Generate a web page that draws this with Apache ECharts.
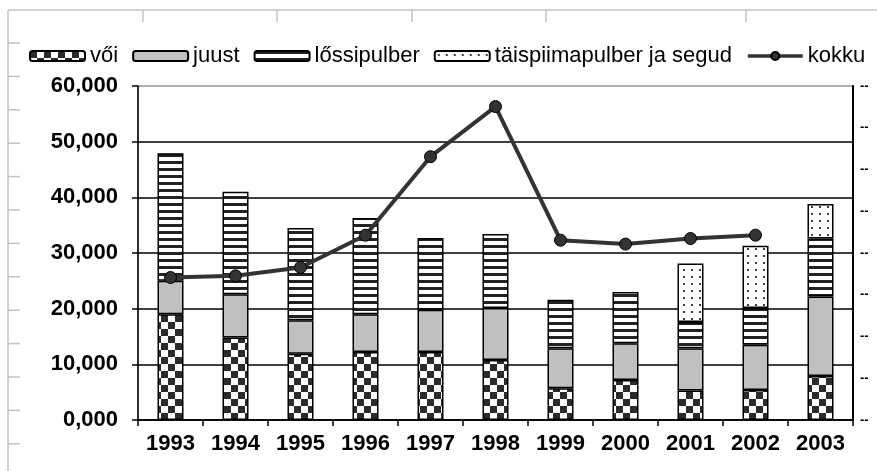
<!DOCTYPE html>
<html>
<head>
<meta charset="utf-8">
<script src="https://cdn.jsdelivr.net/npm/echarts@6/dist/echarts.min.js"></script>
<style>
  html, body { margin: 0; padding: 0; background: #fff; }
  #chart { width: 877px; height: 471px; }
</style>
</head>
<body>
<div id="chart"></div>
<script>
// andmed tuhandetes (tonnid / 1000)
var years = ["1993", "1994", "1995", "1996", "1997", "1998", "1999", "2000", "2001", "2002", "2003"];
var voi = [19.0, 14.8, 11.9, 12.2, 12.2, 10.8, 5.7, 7.2, 5.3, 5.4, 7.9];
var juust = [6.0, 7.8, 6.0, 6.8, 7.6, 9.3, 7.2, 6.6, 7.6, 8.1, 14.3];
var lossipulber = [22.9, 18.4, 16.6, 17.3, 12.9, 13.3, 8.7, 9.2, 4.7, 6.6, 10.4];
var taispiim = [null, null, null, null, null, null, null, null, 10.5, 11.2, 6.2];
var kokku = [25.6, 25.9, 27.4, 33.2, 47.3, 56.3, 32.3, 31.6, 32.6, 33.2, null];

var FONT = "'Liberation Sans', Arial, sans-serif";

// mustrid
function makePattern(w, h, draw) {
  var c = document.createElement("canvas");
  c.width = w;
  c.height = h;
  var ctx = c.getContext("2d");
  ctx.fillStyle = "#fff";
  ctx.fillRect(0, 0, w, h);
  draw(ctx);
  return { image: c, repeat: "repeat" };
}
var checker = makePattern(14, 14, function (ctx) {
  ctx.fillStyle = "#2b2b2b";
  ctx.fillRect(0, 0, 7, 7);
  ctx.fillRect(7, 7, 7, 7);
});
var stripes = makePattern(7, 7, function (ctx) {
  ctx.fillStyle = "#222";
  ctx.fillRect(0, 0, 7, 3);
});
var dots = makePattern(8, 7, function (ctx) {
  ctx.fillStyle = "#444";
  ctx.fillRect(3, 3, 2, 2);
});

function barSeries(name, data, color) {
  return {
    name: name,
    type: "bar",
    stack: "kokku",
    barWidth: 26,
    data: data,
    itemStyle: { color: color, borderColor: "#000", borderWidth: 1.5 }
  };
}

// lehe taust (exceli ruudustik)
var graphics = [
  { type: "line", shape: { x1: 8, y1: 10, x2: 877, y2: 10 }, style: { stroke: "#c4c4c4", lineWidth: 1.5 } },
  { type: "line", shape: { x1: 8, y1: 10, x2: 8, y2: 471 }, style: { stroke: "#c4c4c4", lineWidth: 1.5 } }
];
[143, 277, 412, 546, 746].forEach(function (x) {
  graphics.push({ type: "line", shape: { x1: x, y1: 10, x2: x, y2: 22 }, style: { stroke: "#c4c4c4", lineWidth: 1.5 } });
});
for (var y = 43; y < 471; y += 33.4) {
  graphics.push({ type: "line", shape: { x1: 8, y1: y, x2: 20, y2: y }, style: { stroke: "#c4c4c4", lineWidth: 1.5 } });
}

var chart = echarts.init(document.getElementById("chart"));
chart.setOption({
  animation: false,
  backgroundColor: "#fff",
  graphic: graphics,
  legend: {
    left: 29,
    top: 45,
    width: 860,
    padding: 0,
    itemWidth: 55,
    itemHeight: 10,
    itemGap: 14,
    textStyle: { fontFamily: FONT, fontSize: 22, color: "#000" },
    data: [
      "vői", "juust", "lőssipulber", "täispiimapulber ja segud",
      { name: "kokku", lineStyle: { width: 3.5, color: "#333" }, itemStyle: { color: "#333" } }
    ]
  },
  grid: { left: 138, right: 24, top: 86, bottom: 51, show: true, borderColor: "#999", borderWidth: 1.5 },
  xAxis: {
    type: "category",
    data: years,
    axisLine: { lineStyle: { color: "#000", width: 1.5 } },
    axisTick: { show: true, interval: 0, length: 6, lineStyle: { color: "#000", width: 1.5 } },
    axisLabel: { fontFamily: FONT, fontSize: 22, fontWeight: "bold", color: "#000", margin: 13 }
  },
  yAxis: [
    {
      type: "value",
      min: 0,
      max: 60,
      interval: 10,
      axisLine: { show: true, lineStyle: { color: "#000", width: 1.5 } },
      axisTick: { show: true, length: 6, lineStyle: { color: "#000", width: 1.5 } },
      axisLabel: {
        fontFamily: FONT, fontSize: 22, fontWeight: "bold", color: "#000", margin: 20,
        formatter: function (v) { return v.toFixed(3).replace(".", ","); }
      },
      splitLine: { showMaxLine: false, lineStyle: { color: "#000", width: 1.5 } }
    },
    {
      type: "value",
      position: "right",
      min: 0,
      max: 8,
      interval: 1,
      axisLine: { show: true, lineStyle: { color: "#000", width: 2 } },
      axisTick: { show: false },
      splitLine: { show: false },
      axisLabel: { fontFamily: FONT, fontSize: 13, fontWeight: "bold", color: "#000", margin: 7, formatter: function () { return "--"; } }
    }
  ],
  series: [
    barSeries("vői", voi, checker),
    barSeries("juust", juust, "#c0c0c0"),
    barSeries("lőssipulber", lossipulber, stripes),
    barSeries("täispiimapulber ja segud", taispiim, dots),
    {
      name: "kokku",
      type: "line",
      data: kokku,
      symbol: "circle",
      symbolSize: 12,
      lineStyle: { color: "#333", width: 4 },
      itemStyle: { color: "#333", borderColor: "#000", borderWidth: 1 },
      z: 5
    }
  ]
});
</script>
</body>
</html>
